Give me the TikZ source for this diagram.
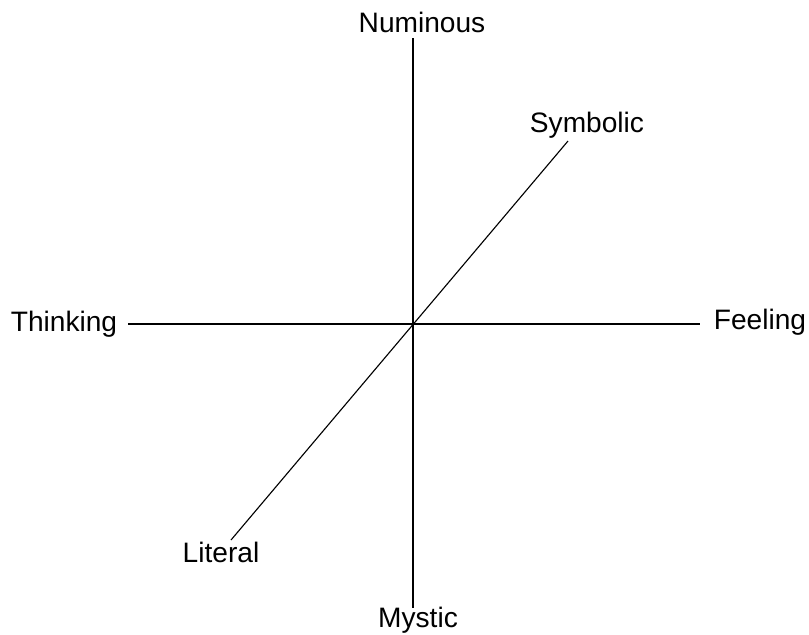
\documentclass[tikz,border=0pt]{standalone}
\usepackage{fontspec}
\setmainfont{Liberation Sans}
\begin{document}
\begin{tikzpicture}[x=0.025cm, y=-0.025cm, line width=0.8pt]
\tikzset{lbl/.style={inner sep=0pt, font=\fontsize{20}{23}\selectfont}}
\useasboundingbox (0,0) rectangle (809,634);

\node[lbl] (numinous) at (422,22) {Numinous};
\node[lbl] (symbolic) at (587,125) {Symbolic};
\node[lbl] (thinking) at (64,324) {Thinking};
\node[lbl] (feeling) at (760,322) {Feeling};
\node[lbl] (literal) at (221,552) {Literal};
\node[lbl] (mystic) at (418,620) {Mystic};

\coordinate (top) at (413,38);
\coordinate (bot) at (413,608);
\coordinate (left) at (128,324);
\coordinate (right) at (700,324);
\coordinate (symend) at (568,141);
\coordinate (litend) at (231,540);

\draw (top) -- (bot);
\draw (left) -- (right);
\draw (litend) -- (symend);
\end{tikzpicture}
\end{document}
